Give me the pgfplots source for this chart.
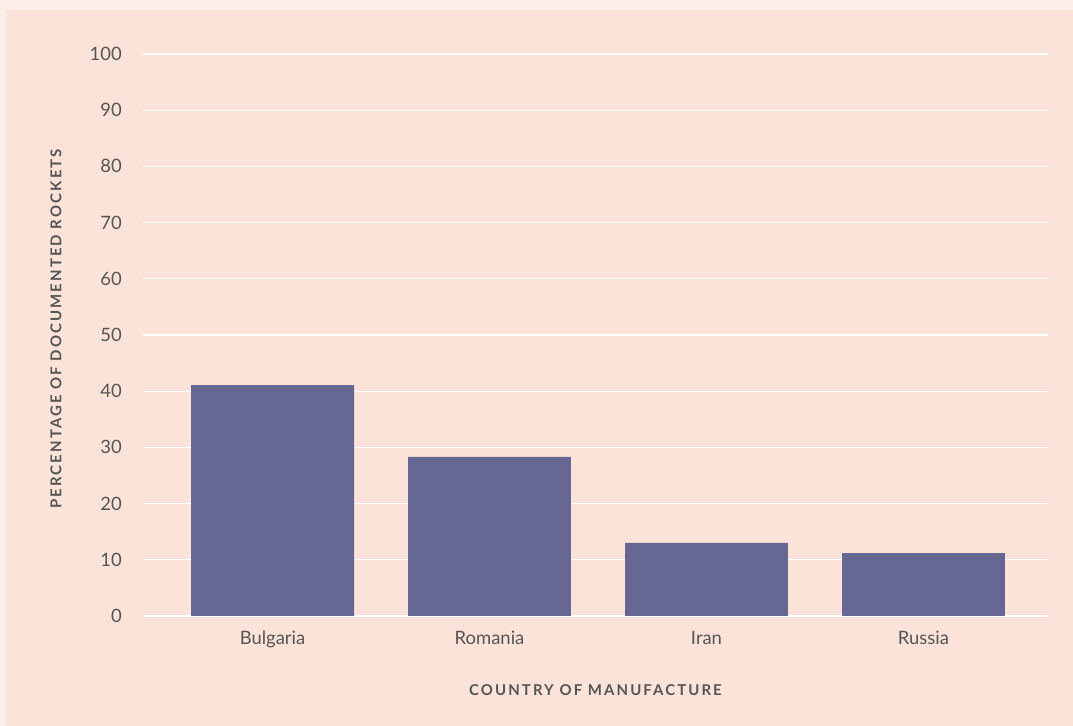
\documentclass[border=0pt]{standalone}
\usepackage{pgfplots}
\pgfplotsset{compat=1.18}
\usepackage{fontspec}
\setmainfont{Lato}
\newfontfamily\titlefont[LetterSpace=14]{Lato Bold}
\definecolor{outerbg}{HTML}{FCEEE8}
\definecolor{innerbg}{HTML}{FCE3D9}
\definecolor{barcol}{HTML}{676794}
\definecolor{txt}{HTML}{555555}
\begin{document}
\begin{tikzpicture}[x=1bp,y=1bp]
\fill[outerbg] (0,0) rectangle (1073,726);
\fill[innerbg] (6,0) rectangle (1073,716);
\begin{axis}[
  at={(143bp,110bp)}, anchor=south west,
  scale only axis, width=905bp, height=562bp,
  xmin=-0.597, xmax=3.574, ymin=0, ymax=100,
  axis line style={draw=none},
  ytick={0,10,...,100},
  xtick={0,1,2,3},
  xticklabels={Bulgaria,Romania,Iran,Russia},
  major tick length=0pt,
  /pgf/number format/assume math mode=true,
  ymajorgrids, grid style={white, line width=1.3bp},
  tick label style={font=\fontsize{18.5}{22}\selectfont, text=txt},
  yticklabel style={anchor=east, inner sep=0pt, xshift=-21bp},
  xticklabel style={anchor=base, inner sep=0pt, yshift=-29bp},
  ybar, bar width=0.751, bar shift=0pt,
]
\addplot[fill=barcol, draw=none] coordinates {(0,41.1) (1,28.3) (2,13.0) (3,11.2)};
\end{axis}
\node[text=txt, font=\titlefont\fontsize{15}{17}\selectfont] at (595.5,36) {COUNTRY OF MANUFACTURE};
\node[text=txt, font=\titlefont\fontsize{15}{17}\selectfont, rotate=90] at (56,397) {PERCENTAGE OF DOCUMENTED ROCKETS};
\end{tikzpicture}
\end{document}
